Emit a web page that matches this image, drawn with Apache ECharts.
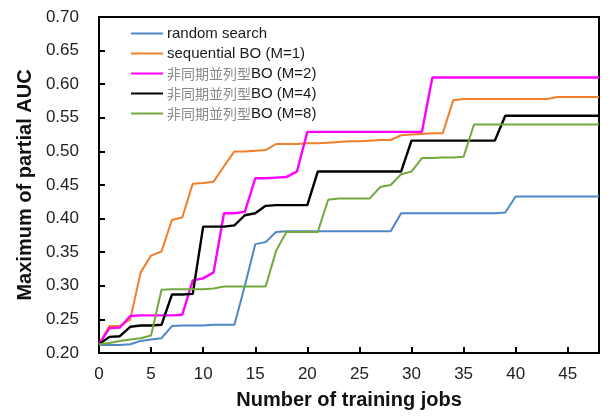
<!DOCTYPE html>
<html>
<head>
<meta charset="utf-8">
<script src="https://cdn.jsdelivr.net/npm/echarts@6/dist/echarts.min.js"></script>
<style>
html,body{margin:0;padding:0;background:#fff;}
#c{width:615px;height:418px;}
</style>
</head>
<body>
<div id="c"></div>
<script>
var jobs = [0,1,2,3,4,5,6,7,8,9,10,11,12,13,14,15,16,17,18,19,20,21,22,23,24,25,26,27,28,29,30,31,32,33,34,35,36,37,38,39,40,41,42,43,44,45,46,47,48];
var seriesNames = ['random search','sequential BO (M=1)','非同期並列型BO (M=2)','非同期並列型BO (M=4)','非同期並列型BO (M=8)'];
var randomSearch = [0.212,0.212,0.212,0.213,0.218,0.220,0.222,0.240,0.241,0.241,0.241,0.242,0.242,0.242,0.300,0.362,0.365,0.380,0.381,0.381,0.381,0.381,0.381,0.381,0.381,0.381,0.381,0.381,0.381,0.408,0.408,0.408,0.408,0.408,0.408,0.408,0.408,0.408,0.408,0.409,0.433,0.433,0.433,0.433,0.433,0.433,0.433,0.433,0.433];
var sequentialBO = [0.213,0.240,0.240,0.250,0.320,0.345,0.351,0.398,0.402,0.452,0.453,0.455,0.478,0.500,0.500,0.501,0.502,0.511,0.511,0.511,0.512,0.512,0.513,0.514,0.515,0.515,0.516,0.517,0.517,0.524,0.525,0.526,0.527,0.527,0.576,0.578,0.578,0.578,0.578,0.578,0.578,0.578,0.578,0.578,0.581,0.581,0.581,0.581,0.581];
var asyncM2 = [0.213,0.237,0.238,0.255,0.256,0.256,0.256,0.256,0.257,0.308,0.311,0.320,0.408,0.408,0.410,0.460,0.460,0.461,0.462,0.470,0.529,0.529,0.529,0.529,0.529,0.529,0.529,0.529,0.529,0.529,0.529,0.529,0.610,0.610,0.610,0.610,0.610,0.610,0.610,0.610,0.610,0.610,0.610,0.610,0.610,0.610,0.610,0.610,0.610];
var asyncM4 = [0.213,0.224,0.225,0.239,0.241,0.241,0.242,0.287,0.287,0.288,0.388,0.388,0.388,0.390,0.405,0.408,0.419,0.420,0.420,0.420,0.420,0.470,0.470,0.470,0.470,0.470,0.470,0.470,0.470,0.470,0.516,0.516,0.516,0.516,0.516,0.516,0.516,0.516,0.516,0.553,0.553,0.553,0.553,0.553,0.553,0.553,0.553,0.553,0.553];
var asyncM8 = [0.213,0.215,0.218,0.220,0.222,0.226,0.294,0.295,0.295,0.295,0.295,0.296,0.299,0.299,0.299,0.299,0.299,0.352,0.380,0.380,0.380,0.380,0.428,0.430,0.430,0.430,0.430,0.447,0.450,0.466,0.470,0.490,0.490,0.491,0.491,0.492,0.540,0.540,0.540,0.540,0.540,0.540,0.540,0.540,0.540,0.540,0.540,0.540,0.540];
var yTicks = ['0.20','0.25','0.30','0.35','0.40','0.45','0.50','0.55','0.60','0.65','0.70'];
var xTicks = ['0','5','10','15','20','25','30','35','40','45'];

var colors = ['#4f86c6','#f07e2b','#ff00ff','#000000','#72a93f'];
var allValues = [randomSearch, sequentialBO, asyncM2, asyncM4, asyncM8];

function pairs(vals){ return jobs.map(function(x,i){ return [x, vals[i]]; }); }

var chart = echarts.init(document.getElementById('c'), null, {renderer:'canvas'});
var series = seriesNames.map(function(n,i){
  return {
    name: n, type: 'line', data: pairs(allValues[i]), symbol: 'none',
    lineStyle: {color: colors[i], width: (i===2||i===3)?2.4:2},
    itemStyle: {color: colors[i]},
    animation: false, z: 2 + i
  };
});
chart.setOption({
  animation: false,
  backgroundColor: '#fff',
  textStyle: {fontFamily: '"Liberation Sans", Arial, "Noto Sans CJK JP", sans-serif'},
  grid: {left: 99, right: 16, top: 17, bottom: 65, show: true, borderColor: '#000', borderWidth: 2, backgroundColor: 'transparent'},
  legend: {
    orient: 'vertical', left: 131, top: 26, padding: 0, itemWidth: 32, itemHeight: 15, itemGap: 5,
    icon: 'path://M0,0 L32,0 L32,2 L0,2 Z',
    data: seriesNames,
    formatter: function(n){
      var m = n.match(/^(非同期並列型)(.*)$/);
      if (m) return '{jp|' + m[1] + '}{en|' + m[2] + '}';
      return '{en|' + n + '}';
    },
    textStyle: {
      padding: [0,0,0,-1],
      rich: {
        en: {fontSize: 15, lineHeight: 15, color: '#1a1a1a', fontFamily: '"Liberation Sans", Arial, sans-serif'},
        jp: {fontSize: 14, lineHeight: 15, color: '#8a8a8a', fontFamily: '"Noto Sans CJK JP", sans-serif'}
      }
    }
  },
  xAxis: {
    type: 'value', min: 0, max: 48, interval: 5,
    name: 'Number of training jobs', nameLocation: 'middle', nameGap: 37,
    nameTextStyle: {fontSize: 20, fontWeight: 'bold', color: '#111'},
    axisLine: {lineStyle: {color: '#000', width: 2}},
    axisTick: {inside: true, length: 6, lineStyle: {color: '#000', width: 2}},
    splitLine: {show: false},
    axisLabel: {fontSize: 17, color: '#222', margin: 13, showMaxLabel: false,
      formatter: function(v){ var i = xTicks.indexOf(String(v)); return i>=0 ? xTicks[i] : ''; }}
  },
  yAxis: {
    type: 'value', min: 0.2, max: 0.7, interval: 0.05,
    name: 'Maximum of partial AUC', nameLocation: 'middle', nameGap: 62,
    nameTextStyle: {fontSize: 20, fontWeight: 'bold', color: '#111'},
    axisLine: {show: true, lineStyle: {color: '#000', width: 2}},
    axisTick: {show: true, inside: true, length: 6, lineStyle: {color: '#000', width: 2}},
    splitLine: {show: false},
    axisLabel: {fontSize: 17, color: '#222', margin: 20,
      formatter: function(v){ return yTicks[Math.round((v-0.2)/0.05)]; }}
  },
  series: series
});
</script>
</body>
</html>
